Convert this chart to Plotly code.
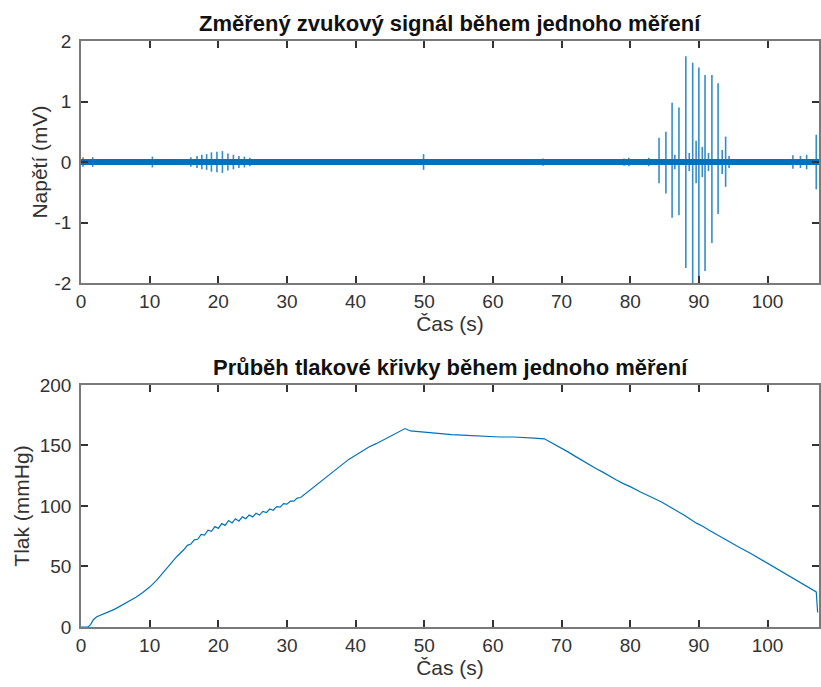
import plotly.graph_objects as go

# ---- pressure cuff curve (time in s, pressure in mmHg) ----
press_t = [0, 1.0, 1.4, 1.8, 2.3, 3, 4, 5, 6, 7, 8, 9, 10, 11, 12, 13, 14, 15,
           15.5, 16, 16.5, 17, 17.5, 18, 18.5, 19, 19.5, 20, 20.5, 21, 21.5, 22,
           22.5, 23, 23.5, 24, 24.5, 25, 25.5, 26, 26.5, 27, 27.5, 28, 28.5, 29,
           29.5, 30, 30.5, 31, 31.5, 32, 33, 34, 35, 36, 37, 38, 39, 40, 41, 42,
           43, 44, 45, 46, 47.2, 48, 49, 50, 51, 52, 53, 54, 55.5, 57, 58, 59,
           61, 63, 64, 66, 67.5, 68.5, 70, 71, 72, 73, 74.3, 75, 76, 77, 78, 79,
           80, 81.5, 83, 84.5, 86, 87, 88, 89.7, 90.5, 91.5, 93, 94.5, 96, 97.5,
           98.4, 99, 100, 101.5, 103, 104.2, 105.5, 106.5, 107.1, 107.3]
press_p = [0, 0, 2, 6, 8.5, 10, 12.5, 15, 18, 21, 24.5, 28.5, 33, 38.5, 45, 51.5, 58.5, 64,
           67.5, 68.5, 72, 72.5, 76.5, 76, 80, 79, 83, 81.5, 85.5, 84, 88, 86,
           89.5, 87.5, 91, 89.5, 92.5, 91, 94, 92.5, 95.5, 94.5, 97.5, 96.5, 99.5, 99,
           102, 101.5, 104, 104, 106.5, 107, 111.5, 116, 120.5, 125, 129.5, 134, 138.5, 142, 145.5, 149,
           151.5, 154.5, 157.5, 160.5, 164, 162, 161.5, 161, 160, 160, 159.5, 159, 158.5, 158, 158, 157.5,
           157, 157, 156.5, 156, 155.5, 152.5, 147.5, 144.5, 141, 137.5, 133, 131, 128, 124.5, 121.5, 118.5,
           116, 111.5, 107.6, 103.5, 98.5, 95.5, 92, 85.6, 83.5, 80, 75, 70.5, 65.5, 61,
           58, 56.5, 53, 48, 43, 38.7, 34.5, 31, 29, 12]

# ---- sound signal: background noise level and individual beats ----
signal_end = 107.5
noise_level = 0.0
beat_t = [0.3, 1.7, 7.6, 10.4,
          16.0, 16.9, 17.6, 18.3, 19.0, 19.8, 20.6, 21.4, 22.2, 23.0, 23.8, 24.6, 25.5,
          49.9, 56.4, 59.8, 67.3, 79.1, 79.8, 80.6, 82.7,
          84.2, 85.2, 86.1, 86.5, 87.1, 88.1, 88.6, 89.1, 89.6, 90.0, 90.5, 90.9,
          91.4, 91.9, 92.8, 93.4, 93.9, 94.4, 103.7, 104.8, 105.7, 107.1]
beat_hi = [0.08, 0.08, 0.05, 0.09,
           0.08, 0.10, 0.12, 0.13, 0.16, 0.17, 0.18, 0.14, 0.12, 0.10, 0.09, 0.07, 0.05,
           0.13, 0.04, 0.05, 0.06, 0.06, 0.07, 0.05, 0.07,
           0.40, 0.50, 0.98, 0.12, 0.90, 1.75, 0.15, 1.64, 0.35, 1.56, 0.25, 1.44,
           0.15, 1.44, 1.30, 0.20, 0.42, 0.10, 0.11, 0.10, 0.12, 0.45]
beat_lo = [-0.08, -0.08, -0.05, -0.09,
           -0.08, -0.10, -0.12, -0.13, -0.16, -0.17, -0.18, -0.14, -0.12, -0.10, -0.09, -0.07, -0.05,
           -0.13, -0.04, -0.05, -0.06, -0.06, -0.07, -0.05, -0.07,
           -0.35, -0.52, -0.92, -0.12, -0.88, -1.75, -0.15, -2.10, -0.35, -2.20, -0.25, -1.80,
           -0.15, -1.34, -0.86, -0.20, -0.41, -0.10, -0.11, -0.10, -0.12, -0.45]

# ---- labels ----
title_top = "Změřený zvukový signál během jednoho měření"
title_bottom = "Průběh tlakové křivky během jednoho měření"
xlabel = "Čas (s)"
ylabel_top = "Napětí (mV)"
ylabel_bottom = "Tlak (mmHg)"
x_ticks = list(range(0, 101, 10))
y_ticks_top = [-2, -1, 0, 1, 2]
y_ticks_bottom = [0, 50, 100, 150, 200]

BLUE = "#0072BD"
FONT = "Liberation Sans, Arial, Helvetica, sans-serif"
GREY = "#333333"

# vertical segments for each beat
seg_x, seg_y = [], []
for t, hi, lo in zip(beat_t, beat_hi, beat_lo):
    seg_x += [t, t, None]
    seg_y += [hi, lo, None]

fig = go.Figure()
# thick noisy baseline of the microphone signal
fig.add_trace(go.Scatter(x=[0, signal_end], y=[noise_level, noise_level], mode="lines",
                         line=dict(color=BLUE, width=6), xaxis="x", yaxis="y",
                         showlegend=False, hoverinfo="skip"))
fig.add_trace(go.Scatter(x=seg_x, y=seg_y, mode="lines",
                         line=dict(color=BLUE, width=1.6), opacity=0.8,
                         xaxis="x", yaxis="y", showlegend=False))
fig.add_trace(go.Scatter(x=press_t, y=press_p, mode="lines",
                         line=dict(color=BLUE, width=1.2), xaxis="x2", yaxis="y2",
                         showlegend=False))

axis_common = dict(showline=True, linecolor="#7a7a7a", linewidth=1.5, mirror="ticks",
                   ticks="inside", ticklen=7, tickwidth=1.5, tickcolor=GREY,
                   showgrid=False, zeroline=False,
                   tickfont=dict(family=FONT, size=19, color=GREY))

x_common = dict(axis_common, range=[0, 107.5], tickvals=x_ticks,
                title=dict(text=xlabel, font=dict(family=FONT, size=21, color=GREY),
                           standoff=4))

fig.update_layout(
    width=821, height=687,
    margin=dict(l=81, r=0, t=41, b=60),
    paper_bgcolor="white", plot_bgcolor="white",
    xaxis=dict(x_common, domain=[0, 1], anchor="y"),
    yaxis=dict(axis_common, domain=[0.587, 1], anchor="x", range=[-2, 2],
               tickvals=y_ticks_top, ticktext=[str(v) for v in y_ticks_top],
               ticklabelstandoff=4,
               title=dict(text=ylabel_top, font=dict(family=FONT, size=21, color=GREY),
                          standoff=1)),
    xaxis2=dict(x_common, domain=[0, 1], anchor="y2"),
    yaxis2=dict(axis_common, domain=[0, 0.413], anchor="x2", range=[0, 200],
                tickvals=y_ticks_bottom, ticklabelstandoff=4,
                title=dict(text=ylabel_bottom, font=dict(family=FONT, size=21, color=GREY),
                           standoff=4)),
    annotations=[
        dict(text=f"<b>{title_top}</b>", xref="paper", yref="paper", x=0.5, y=1,
             xanchor="center", yanchor="bottom", yshift=3, showarrow=False,
             font=dict(family=FONT, size=22, color="#111111")),
        dict(text=f"<b>{title_bottom}</b>", xref="paper", yref="paper", x=0.5, y=0.413,
             xanchor="center", yanchor="bottom", yshift=3, showarrow=False,
             font=dict(family=FONT, size=22, color="#111111")),
    ],
)

fig.write_html("out.html")
